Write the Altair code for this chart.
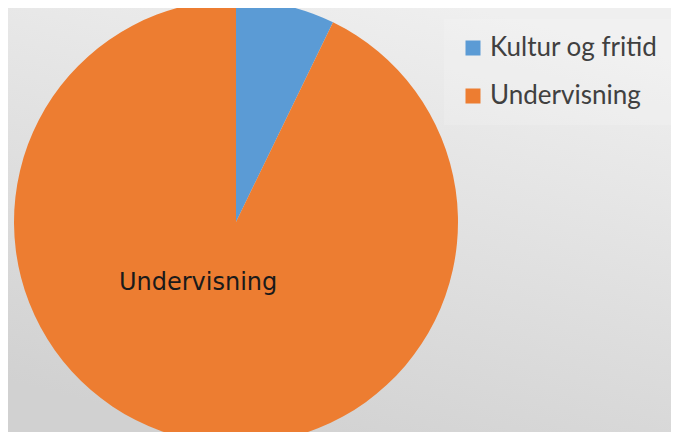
import altair as alt
import pandas as pd

categories = ["Kultur og fritid", "Undervisning"]
values = [7.2, 92.8]
colors = ["#5B9BD5", "#ED7D31"]
slice_labels = ["", "Undervisning"]

W, H = 663, 424

df = pd.DataFrame({
    "category": categories,
    "value": values,
    "idx": list(range(len(categories))),
    "label": slice_labels,
})

bg = alt.Chart(pd.DataFrame({"k": [0]})).mark_rect(
    color=alt.LinearGradient(
        gradient="linear",
        x1=0.7, y1=0, x2=0.3, y2=1,
        stops=[
            alt.GradientStop(color="#efefef", offset=0),
            alt.GradientStop(color="#d1d1d1", offset=1),
        ],
    )
).encode(
    x=alt.value(0), x2=alt.value(W), y=alt.value(0), y2=alt.value(H)
)

base = alt.Chart(df).encode(
    theta=alt.Theta("value:Q", stack=True),
    order=alt.Order("idx:Q"),
)

pie = base.mark_arc(radius=222).encode(
    x=alt.value(228),
    y=alt.value(214),
    color=alt.Color(
        "category:N",
        scale=alt.Scale(domain=categories, range=colors),
        legend=alt.Legend(
            title=None,
            orient="none",
            legendX=436,
            legendY=11,
            symbolType="square",
            symbolSize=225,
            symbolStrokeWidth=0,
            labelFont="Lato",
            labelFontSize=26,
            labelLimit=400,
            labelColor="#404040",
            labelOffset=4,
            rowPadding=22,
            padding=16,
            fillColor="rgba(255,255,255,0.15)",
        ),
    ),
)

text = base.mark_text(
    radius=62, dx=-24, dy=1, font="DejaVu Sans", fontSize=24,
    color="#1a1a1a", baseline="middle", align="center"
).encode(
    x=alt.value(228),
    y=alt.value(214),
    text="label:N",
)

chart = alt.layer(bg, pie, text).properties(
    width=W,
    height=H,
    autosize=alt.AutoSizeParams(type="none"),
    padding=0,
).configure_view(
    strokeWidth=0,
)

chart.save("out.html", embed_options={"renderer": "svg", "actions": False})
